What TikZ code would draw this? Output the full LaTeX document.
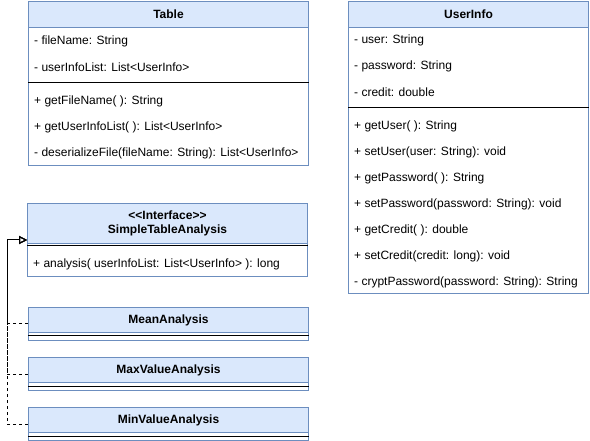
\documentclass[tikz,border=0pt]{standalone}
\usepackage{fontspec}
\setmainfont{Liberation Sans}
\usetikzlibrary{arrows.meta}
\definecolor{hdrfill}{HTML}{DAE8FC}
\definecolor{hdrline}{HTML}{6C8EBF}
\newcommand{\umlfont}{\fontsize{12}{14}\selectfont}
\tikzset{
  box/.style={draw=hdrline, fill=white, line width=1pt, rectangle, inner sep=0pt, anchor=north west},
  hdr/.style={draw=hdrline, fill=hdrfill, line width=1pt, rectangle, inner sep=0pt, anchor=north west, font=\umlfont\bfseries, align=center},
  row/.style={anchor=west, inner sep=0pt},
  sep/.style={draw=black, line width=1pt},
  impl/.style={draw=black, line width=1pt, dashed, -{Triangle[open, length=8pt, width=8pt]}},
}
\begin{document}
\begin{tikzpicture}[x=1pt, y=-1pt, font=\umlfont]
\useasboundingbox (0,0) rectangle (590,441);
% Table
\node[box, minimum width=280, minimum height=164] (table) at (28,1) {};
\node[hdr, minimum width=280, minimum height=26] (tableh) at (28,1) {Table};
\node[row] (t1) at (34,41) {- fileName: String};
\node[row] (t2) at (34,67) {- userInfoList: List<UserInfo>};
\draw[sep] (table.west |- 0,83) -- (table.east |- 0,83);
\node[row] (t3) at (34,101) {+ getFileName( ): String};
\node[row] (t4) at (34,127) {+ getUserInfoList( ): List<UserInfo>};
\node[row] (t5) at (34,153) {- deserializeFile(fileName: String): List<UserInfo>};
% UserInfo
\node[box, minimum width=240, minimum height=292] (user) at (348,1) {};
\node[hdr, minimum width=240, minimum height=26] (userh) at (348,1) {UserInfo};
\node[row] (u1) at (354,40) {- user: String};
\node[row] (u2) at (354,66) {- password: String};
\node[row] (u3) at (354,92) {- credit: double};
\draw[sep] (user.west |- 0,108) -- (user.east |- 0,108);
\node[row] (u4) at (354,126) {+ getUser( ): String};
\node[row] (u5) at (354,152) {+ setUser(user: String): void};
\node[row] (u6) at (354,178) {+ getPassword( ): String};
\node[row] (u7) at (354,204) {+ setPassword(password: String): void};
\node[row] (u8) at (354,230) {+ getCredit( ): double};
\node[row] (u9) at (354,256) {+ setCredit(credit: long): void};
\node[row] (u10) at (354,282) {- cryptPassword(password: String): String};
% SimpleTableAnalysis
\node[box, minimum width=280, minimum height=73] (sta) at (27,203) {};
\node[hdr, minimum width=280, minimum height=40] (stah) at (27,203) {<\kern0pt<Interface>\kern0pt>\\SimpleTableAnalysis};
\draw[sep] (sta.west |- 0,246) -- (sta.east |- 0,246);
\node[row] (s1) at (33,264) {+ analysis( userInfoList: List<UserInfo> ): long};
% Mean
\node[box, minimum width=280, minimum height=33] (mean) at (28,307) {};
\node[hdr, minimum width=280, minimum height=25] (meanh) at (28,307) {MeanAnalysis};
\draw[sep] (mean.west |- 0,336) -- (mean.east |- 0,336);
% Max
\node[box, minimum width=280, minimum height=33] (max) at (28,357) {};
\node[hdr, minimum width=280, minimum height=25] (maxh) at (28,357) {MaxValueAnalysis};
\draw[sep] (max.west |- 0,386) -- (max.east |- 0,386);
% Min
\node[box, minimum width=280, minimum height=33] (min) at (28,407) {};
\node[hdr, minimum width=280, minimum height=25] (minh) at (28,407) {MinValueAnalysis};
\draw[sep] (min.west |- 0,436) -- (min.east |- 0,436);
% realizations
\coordinate (rail) at (7,0);
\draw[impl] (mean.west) -| (rail |- sta.west) -- (sta.west);
\draw[impl] (max.west) -| (rail |- sta.west) -- (sta.west);
\draw[impl] (min.west) -| (rail |- sta.west) -- (sta.west);
\end{tikzpicture}
\end{document}
